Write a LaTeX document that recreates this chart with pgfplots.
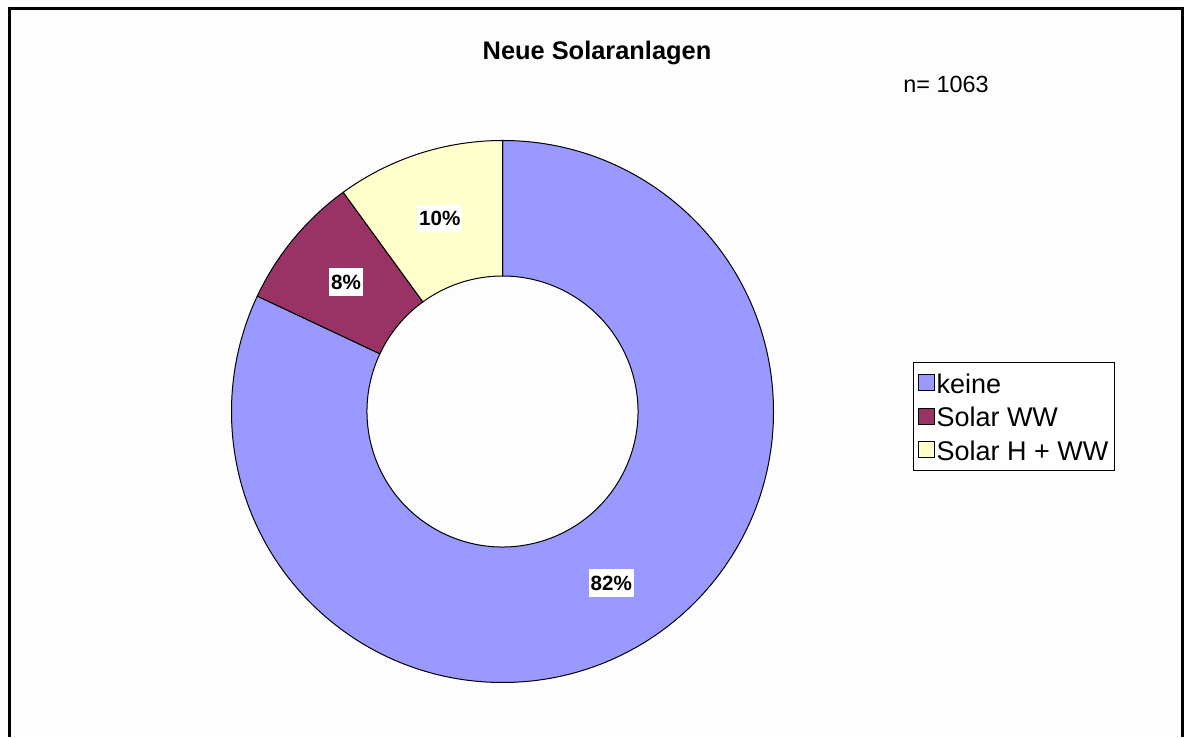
\documentclass[border=0pt]{standalone}
\usepackage{fontspec}
\setmainfont{Liberation Sans}
\usepackage{pgfplots}
\usepackage{pgfplotstable}
\pgfplotsset{compat=1.18}

\definecolor{keinec}{RGB}{153,153,255}
\definecolor{wwc}{RGB}{153,51,102}
\definecolor{hwwc}{RGB}{255,255,204}
\definecolor{bgc}{RGB}{253,253,253}

% share of new installations, percent
\pgfplotstableread[col sep=comma]{
name,value
keine,82
Solar WW,8
Solar H + WW,10
}\soldata

\pgfplotstablegetelem{0}{value}\of\soldata \let\vA\pgfplotsretval
\pgfplotstablegetelem{1}{value}\of\soldata \let\vB\pgfplotsretval
\pgfplotstablegetelem{2}{value}\of\soldata \let\vC\pgfplotsretval

% ring geometry (axis units = pixels)
\def\cx{502.5}
\def\cy{325.5}
\def\Ro{271}
\def\Ri{135.5}
\def\Rm{203}

\pgfmathsetmacro\aA{90}
\pgfmathsetmacro\aB{90-3.6*\vA}
\pgfmathsetmacro\aC{\aB-3.6*\vB}
\pgfmathsetmacro\aD{\aC-3.6*\vC}

% numbers are expanded at once, since the axis draws its content later
\newcommand\sector[4]{%
  \pgfmathsetmacro\xo{\cx+\Ro*cos(#1)}%
  \pgfmathsetmacro\yo{\cy+\Ro*sin(#1)}%
  \pgfmathsetmacro\xi{\cx+\Ri*cos(#2)}%
  \pgfmathsetmacro\yi{\cy+\Ri*sin(#2)}%
  \pgfmathsetmacro\xm{\cx+\Rm*cos((#1+#2)/2)}%
  \pgfmathsetmacro\ym{\cy+\Rm*sin((#1+#2)/2)}%
  \pgfmathsetmacro\ro{\Ro*0.5}%
  \pgfmathsetmacro\ri{\Ri*0.5}%
  \edef\temp{%
    \noexpand\filldraw[fill=#3, draw=black, line width=0.5pt]
      (axis cs:\xo,\yo) arc[start angle=#1, end angle=#2, radius=\ro pt]
      -- (axis cs:\xi,\yi) arc[start angle=#2, end angle=#1, radius=\ri pt] -- cycle;
    \noexpand\node[fill=white, inner xsep=1pt, inner ysep=3.3pt, text height=7.3pt, text depth=0pt,
        font=\noexpand\fontsize{10.3}{12}\noexpand\selectfont\noexpand\bfseries]
        at (axis cs:\xm,\ym) {#4\noexpand\%};
  }%
  \temp
}

\begin{document}
\begin{tikzpicture}
\begin{axis}[
  x=0.5pt, y=0.5pt,
  xmin=0, xmax=1185, ymin=0, ymax=737,
  hide axis, clip=false,
  legend style={at={(axis cs:913,375)}, anchor=north west, draw=black, line width=0.5pt,
    fill=white, font=\fontsize{13.5}{15}\selectfont, inner sep=2pt, row sep=0.25pt,
    nodes={inner sep=1pt, text height=12.5pt, text depth=2pt}},
  legend cell align=left,
  legend image code/.code={\draw[#1, line width=0.5pt] (0pt,-4pt) rectangle (8pt,4pt);},
]
\fill[bgc] (axis cs:0,0) rectangle (axis cs:1185,737);
\draw[line width=1.5pt] (axis cs:9.5,0) -- (axis cs:9.5,728.5) -- (axis cs:1182.5,728.5) -- (axis cs:1182.5,0);

\sector{\aA}{\aB}{keinec}{\vA}
\sector{\aB}{\aC}{wwc}{\vB}
\sector{\aC}{\aD}{hwwc}{\vC}

\node[font=\fontsize{12.7}{14}\selectfont\bfseries] at (axis cs:597,684) {Neue Solaranlagen};
\node[font=\fontsize{11.7}{14}\selectfont] at (axis cs:946,653) {n= 1063};

\addlegendimage{fill=keinec, draw=black}
\addlegendentry{keine}
\addlegendimage{fill=wwc, draw=black}
\addlegendentry{Solar WW}
\addlegendimage{fill=hwwc, draw=black}
\addlegendentry{Solar H + WW}
\end{axis}
\end{tikzpicture}
\end{document}
